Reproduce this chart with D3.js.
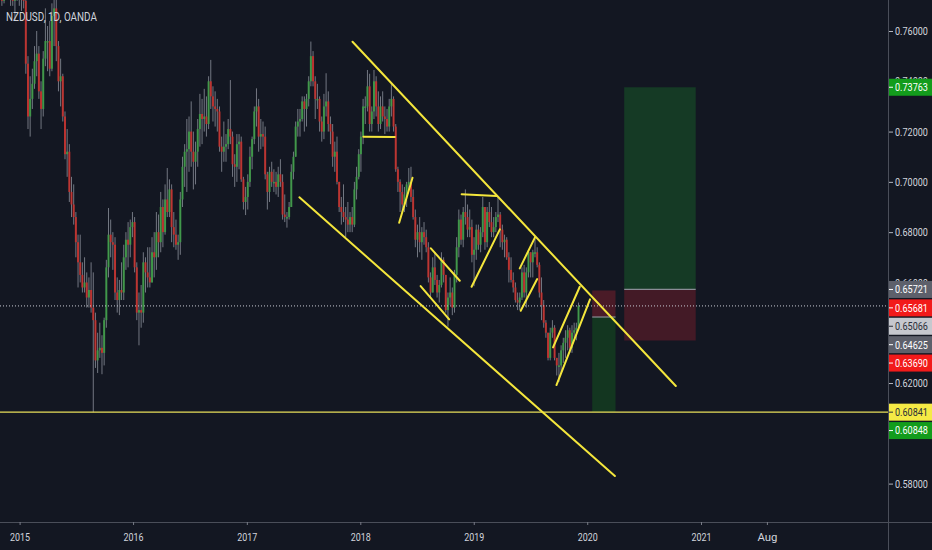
<!DOCTYPE html>
<html><head><meta charset="utf-8">
<script src="https://cdn.jsdelivr.net/npm/d3@7"></script>
<style>
html,body{margin:0;padding:0;background:#131722;overflow:hidden}
svg{display:block}
text{font-family:"Roboto","Liberation Sans",sans-serif}
</style></head><body>
<svg id="c" width="932" height="550"></svg>
<script>
// ---------------- data ----------------
const chartTitle = "NZDUSD, 1D, OANDA";
const firstWeek = "2014-11-03";      // Monday of first weekly candle
const firstOpen = 7800;               // pips (x 1e-4)
const weekHigh = [
7840,7860,7900,7960,7860,7880,7790,7810,7850,
7820,7880,7740,7500,7420,7450,7540,7600,7540,7400,
7520,7690,7620,7640,7710,7750,7740,7560,7490,7430,
7280,7210,7150,7020,6990,6880,6790,6790,6680,6700,
6640,6620,6680,6640,6480,6400,6440,6390,6460,6690,
6896,6850,6800,6780,6620,6610,6680,6750,6800,6840,
6850,6880,6860,6680,6560,6590,6720,6700,6740,6740,
6780,6800,6880,6870,6960,6930,6990,7055,7010,6990,
6880,6850,6790,6960,7100,7150,7250,7260,7320,7200,
7160,7250,7350,7330,7370,7340,7420,7485,7380,7360,
7330,7300,7180,7240,7190,7250,7405,7200,7110,7190,
7190,7180,7020,6980,7030,7140,7180,7300,7372,7330,
7250,7240,7220,7040,7060,7080,7050,7040,7060,7090,
7030,6950,6880,6920,7070,7120,7240,7290,7290,7340,
7340,7350,7420,7558,7520,7420,7390,7340,7260,7350,
7432,7360,7260,7230,7160,7180,7000,6940,6990,6900,
6920,6880,6900,7000,7060,7130,7200,7330,7340,7445,
7430,7300,7445,7420,7360,7340,7360,7300,7290,7330,
7390,7340,7230,7060,7010,6990,6980,7000,7055,7060,
6970,6890,6830,6860,6820,6840,6810,6760,6640,6700,
6720,6630,6610,6720,6700,6630,6560,6620,6580,6650,
6780,6890,6870,6900,6970,6910,6890,6850,6780,6830,
6830,6820,6940,6900,6900,6920,6900,6860,6880,6940,
6880,6830,6790,6780,6720,6700,6640,6600,6560,6560,
6660,6670,6660,6730,6720,6730,6775,6740,6680,6620,
6530,6450,6400,6420,6450,6430,6300,6320,6350,6380,
6410,6430,6420,6430,6440,6440,6520];
const weekLow = [
7700,7710,7760,7800,7700,7700,7640,7720,7700,
7680,7690,7430,7210,7180,7290,7370,7420,7330,7210,
7260,7460,7440,7420,7440,7540,7480,7360,7300,7240,
7090,7020,6920,6860,6830,6700,6580,6600,6560,6560,
6500,6500,6480,6084,6260,6240,6300,6235,6270,6420,
6620,6700,6650,6530,6480,6470,6530,6530,6650,6660,
6700,6780,6640,6450,6350,6420,6440,6560,6580,6580,
6600,6620,6650,6700,6720,6740,6790,6860,6860,6760,
6740,6730,6690,6710,6900,6980,6960,7040,7060,6970,
6990,7060,7140,7150,7200,7180,7210,7290,7240,7220,
7200,7120,7040,7080,7080,7130,7150,7020,6980,7000,
7050,7000,6890,6868,6890,6980,7050,7150,7220,7120,
7130,7140,7010,6890,6920,6980,6960,6950,6940,6980,
6850,6840,6818,6850,6900,7010,7100,7180,7180,7240,
7200,7220,7300,7380,7380,7250,7290,7200,7160,7170,
7260,7200,7150,7060,7040,6990,6880,6830,6840,6780,
6800,6800,6800,6820,6930,7010,7040,7150,7230,7280,
7200,7200,7250,7260,7200,7210,7240,7190,7200,7200,
7260,7200,7040,6960,6880,6875,6880,6900,6970,6920,
6850,6740,6700,6720,6690,6750,6720,6600,6540,6560,
6590,6540,6520,6580,6600,6480,6424,6510,6470,6480,
6600,6700,6750,6740,6830,6780,6780,6680,6585,6690,
6730,6720,6780,6730,6740,6820,6780,6780,6800,6840,
6740,6730,6700,6690,6600,6600,6560,6520,6490,6490,
6530,6540,6500,6620,6620,6620,6700,6660,6540,6450,
6420,6380,6290,6290,6380,6290,6230,6204,6240,6280,
6300,6330,6320,6320,6380,6370,6410];
const weekClose = [
7720,7840,7880,7820,7780,7720,7760,7780,7770,
7780,7720,7470,7260,7330,7390,7480,7510,7360,7290,
7490,7560,7560,7450,7660,7690,7540,7400,7420,7260,
7110,7120,6960,6910,6860,6760,6680,6630,6580,6600,
6540,6570,6500,6450,6290,6330,6340,6320,6450,6660,
6790,6760,6750,6560,6530,6570,6560,6700,6770,6750,
6820,6840,6660,6480,6490,6480,6680,6640,6620,6600,
6720,6700,6800,6760,6900,6800,6930,6880,6970,6820,
6790,6750,6760,6930,7060,7120,7130,7200,7120,7080,
7120,7210,7270,7250,7260,7230,7400,7340,7300,7290,
7280,7140,7120,7140,7150,7210,7180,7070,7060,7150,
7160,7010,6920,6940,7000,7100,7170,7280,7300,7180,
7190,7180,7030,6960,7040,7000,7000,6980,7030,7000,
6870,6860,6860,6900,7040,7100,7220,7240,7250,7320,
7290,7330,7400,7500,7400,7330,7330,7240,7200,7300,
7320,7230,7200,7100,7120,7000,6900,6880,6860,6850,
6830,6860,6830,6970,7020,7110,7180,7300,7300,7380,
7230,7280,7400,7300,7230,7300,7260,7250,7220,7300,
7330,7220,7050,7000,6960,6910,6950,6990,7000,6940,
6860,6770,6800,6760,6800,6780,6740,6620,6560,6660,
6610,6560,6590,6690,6630,6490,6540,6560,6500,6630,
6740,6850,6770,6880,6860,6810,6820,6710,6730,6810,
6750,6800,6900,6760,6880,6840,6800,6820,6860,6870,
6810,6760,6770,6700,6650,6610,6580,6530,6520,6540,
6640,6560,6640,6720,6680,6720,6720,6670,6560,6510,
6440,6400,6300,6400,6420,6300,6270,6270,6330,6360,
6380,6410,6340,6400,6410,6420,6507];

const priceTicks = [0.58,0.60,0.62,0.64,0.66,0.68,0.70,0.72,0.74,0.76];
const timeTickDates = ["2015-01-01","2016-01-01","2017-01-01","2018-01-01","2019-01-01","2020-01-01","2021-01-01","2021-08-01"];
const timeTickLabels = ["2015","2016","2017","2018","2019","2020","2021","Aug"];

const currentPrice = 0.65066;
const supportLevel = 0.60841;

// yellow drawings: [startDate, startPrice, endDate, endPrice]
const trendLines = [
  ["2017-12-07",0.75574,"2020-10-12",0.61880],
  ["2017-06-19",0.69385,"2020-03-30",0.58300],
  ["2018-01-11",0.71790,"2018-04-22",0.71780],
  ["2018-05-06",0.68375,"2018-06-18",0.70165],
  ["2018-08-16",0.67357,"2018-11-17",0.66068],
  ["2018-07-14",0.65857,"2018-10-14",0.64532],
  ["2018-11-23",0.69504,"2019-03-16",0.69437],
  ["2018-12-25",0.65829,"2019-03-26",0.68112],
  ["2019-05-29",0.66561,"2019-07-17",0.67794],
  ["2019-06-01",0.64874,"2019-07-24",0.66135],
  ["2019-09-13",0.63419,"2019-12-08",0.65829],
  ["2019-09-24",0.61919,"2020-01-10",0.65328]
];

const shortStart = "2020-01-17", shortEnd = "2020-04-01";
const shortEntry = 0.64625, shortStop = 0.65681, shortTarget = 0.60848;
const longStart = "2020-04-29", longEnd = "2020-12-15";
const longEntry = 0.65721, longStop = 0.63690, longTarget = 0.73763;

// right-scale badges in display order: value, kind
const badgeValues = [0.73763,0.65721,0.65681,0.65066,0.64625,0.63690,0.60841,0.60848];
const badgeKinds  = ["green","grey","red","last","grey","red","yellow","green"];

// ---------------- drawing ----------------
const W = 932, H = 550, plotR = 888, plotB = 522;
const svg = d3.select("#c");
const pd = d3.utcParse("%Y-%m-%d");
const fmt = d3.format(".5f");

// horizontally squeeze texts to a target width (TradingView uses a narrow face)
function squeeze(sel, target){
  sel.each(function(){
    const len = this.getComputedTextLength();
    const f = Math.min(1, target/len);
    const x0 = +(this.getAttribute("x") || 0);
    d3.select(this).attr("x", x0/f).attr("transform", `scale(${f},1)`);
  });
}

const x = d3.scaleUtc().domain([pd("2015-01-01"), pd("2021-01-01")]).range([19.6, 701]);
const y = d3.scaleLinear().domain([0.58, 0.76]).range([483.6, 31]);

svg.append("rect").attr("width",W).attr("height",H).attr("fill","#131722");
svg.append("defs").append("clipPath").attr("id","plot")
  .append("rect").attr("x",0).attr("y",0).attr("width",plotR).attr("height",plotB);

const plot = svg.append("g").attr("clip-path","url(#plot)");

// candles
const w0 = pd(firstWeek);
const candles = weekClose.map((c,i)=>({
  d: d3.utcDay.offset(w0, 7*i + 2),
  o: (i===0 ? firstOpen : weekClose[i-1]) / 1e4,
  h: weekHigh[i]/1e4, l: weekLow[i]/1e4, c: c/1e4
}));
const cg = plot.append("g");
cg.selectAll("line.wick").data(candles).join("line").attr("class","wick")
  .attr("x1",d=>x(d.d)).attr("x2",d=>x(d.d))
  .attr("y1",d=>y(d.h)).attr("y2",d=>y(d.l))
  .attr("stroke","#b4b8c2").attr("stroke-width",0.8).attr("stroke-opacity",0.75);
cg.selectAll("rect.body").data(candles).join("rect").attr("class","body")
  .attr("x",d=>x(d.d)-1).attr("width",2)
  .attr("y",d=>y(Math.max(d.o,d.c)))
  .attr("height",d=>Math.max(1.5, Math.abs(y(d.o)-y(d.c))))
  .attr("fill",d=>d.c>=d.o ? "#3e9d47" : "#c8312c").attr("fill-opacity",0.9);

// position tools
function box(d1,d2,p1,p2,fill){
  plot.append("rect").attr("x",x(pd(d1))).attr("width",x(pd(d2))-x(pd(d1)))
    .attr("y",y(Math.max(p1,p2))).attr("height",Math.abs(y(p1)-y(p2))).attr("fill",fill);
}
box(shortStart,shortEnd,shortEntry,shortStop,"#4a1b27");
box(shortStart,shortEnd,shortEntry,shortTarget,"#133620");
box(longStart,longEnd,longEntry,longTarget,"#153a25");
box(longStart,longEnd,longEntry,longStop,"#431a26");
[[shortStart,shortEnd,shortEntry],[longStart,longEnd,longEntry]].forEach(([a,b,p])=>{
  plot.append("line").attr("x1",x(pd(a))).attr("x2",x(pd(b))).attr("y1",y(p)).attr("y2",y(p))
    .attr("stroke","#8a8d96").attr("stroke-width",1.2);
});

// support horizontal
plot.append("line").attr("x1",0).attr("x2",plotR).attr("y1",y(supportLevel)).attr("y2",y(supportLevel))
  .attr("stroke","#e9df5a").attr("stroke-width",1.4);

// current price dotted
plot.append("line").attr("x1",0).attr("x2",plotR).attr("y1",y(currentPrice)).attr("y2",y(currentPrice))
  .attr("stroke","#c9ccd4").attr("stroke-width",1).attr("stroke-dasharray","1,2");

// trend lines
plot.selectAll("line.tl").data(trendLines).join("line").attr("class","tl")
  .attr("x1",d=>x(pd(d[0]))).attr("y1",d=>y(d[1]))
  .attr("x2",d=>x(pd(d[2]))).attr("y2",d=>y(d[3]))
  .attr("stroke","#f4e63c").attr("stroke-width",2).attr("stroke-linecap","round");

// axes frame lines
svg.append("line").attr("x1",0).attr("x2",W).attr("y1",plotB+0.5).attr("y2",plotB+0.5)
  .attr("stroke","#4a4e59").attr("stroke-width",1);
svg.append("line").attr("x1",plotR+0.5).attr("x2",plotR+0.5).attr("y1",0).attr("y2",H)
  .attr("stroke","#4a4e59").attr("stroke-width",1);

// badge positions (stacked so they do not collide)
let prevY = -1e9;
const badges = badgeValues.map((v,i)=>{
  const yy = Math.max(y(v), prevY + 18.4);
  prevY = yy;
  return {v, kind: badgeKinds[i], y: yy};
});
// drop tick labels whose glyphs are (almost) completely hidden under the badges
const covered = py => badges.some(b => py >= b.y-8.5 && py <= b.y+8.5);
const visibleTicks = priceTicks.filter(t => {
  const ty = y(t);
  let free = 0;
  for (let k=-4.2; k<=4.2; k+=0.25) if (!covered(ty+k)) free += 0.25;
  return free >= 1.75;
});

// right price axis
const ya = svg.append("g").attr("transform",`translate(${plotR+1},0)`)
  .call(d3.axisRight(y).tickValues(visibleTicks).tickFormat(fmt).tickSize(4).tickPadding(2));
ya.select(".domain").remove();
ya.selectAll(".tick line").attr("stroke","#b2b5be");
ya.selectAll(".tick text").attr("fill","#d1d4dc").style("font-size","11.5px");
squeeze(ya.selectAll(".tick text"), 33);

// bottom time axis
const xa = svg.append("g").attr("transform",`translate(0,${plotB})`)
  .call(d3.axisBottom(x).tickValues(timeTickDates.map(pd))
    .tickFormat((d,i)=>timeTickLabels[i]).tickSize(3).tickPadding(8));
xa.select(".domain").remove();
xa.selectAll(".tick line").attr("stroke","#787b86");
xa.selectAll(".tick text").attr("fill","#d1d4dc").style("font-size","11.5px");
squeeze(xa.selectAll(".tick text"), 20);

// badges
const badgeStyle = {
  green:{bg:"#139c1c",fg:"#ffffff"}, grey:{bg:"#5d606b",fg:"#ffffff"},
  red:{bg:"#f21a1a",fg:"#ffffff"}, last:{bg:"#c6c8ce",fg:"#2a2e39"},
  yellow:{bg:"#f5ea45",fg:"#2a2e39"}
};
const bg = svg.append("g");
badges.forEach(b=>{
  const st = badgeStyle[b.kind];
  bg.append("rect").attr("x",plotR+1).attr("y",b.y-8.5).attr("width",W-plotR-1).attr("height",17).attr("fill",st.bg);
  bg.append("line").attr("x1",plotR+1).attr("x2",plotR+5).attr("y1",b.y).attr("y2",b.y).attr("stroke",st.fg);
  bg.append("text").attr("x",plotR+7).attr("y",b.y).attr("dy","0.34em").attr("fill",st.fg)
    .style("font-size","11.5px").text(fmt(b.v));
});
squeeze(bg.selectAll("text"), 33);

// title
const tt = svg.append("text").attr("x",6).attr("y",21).attr("fill","#d1d4dc").style("font-size","12.5px").text(chartTitle);
squeeze(tt, 91);
</script>
</body></html>
